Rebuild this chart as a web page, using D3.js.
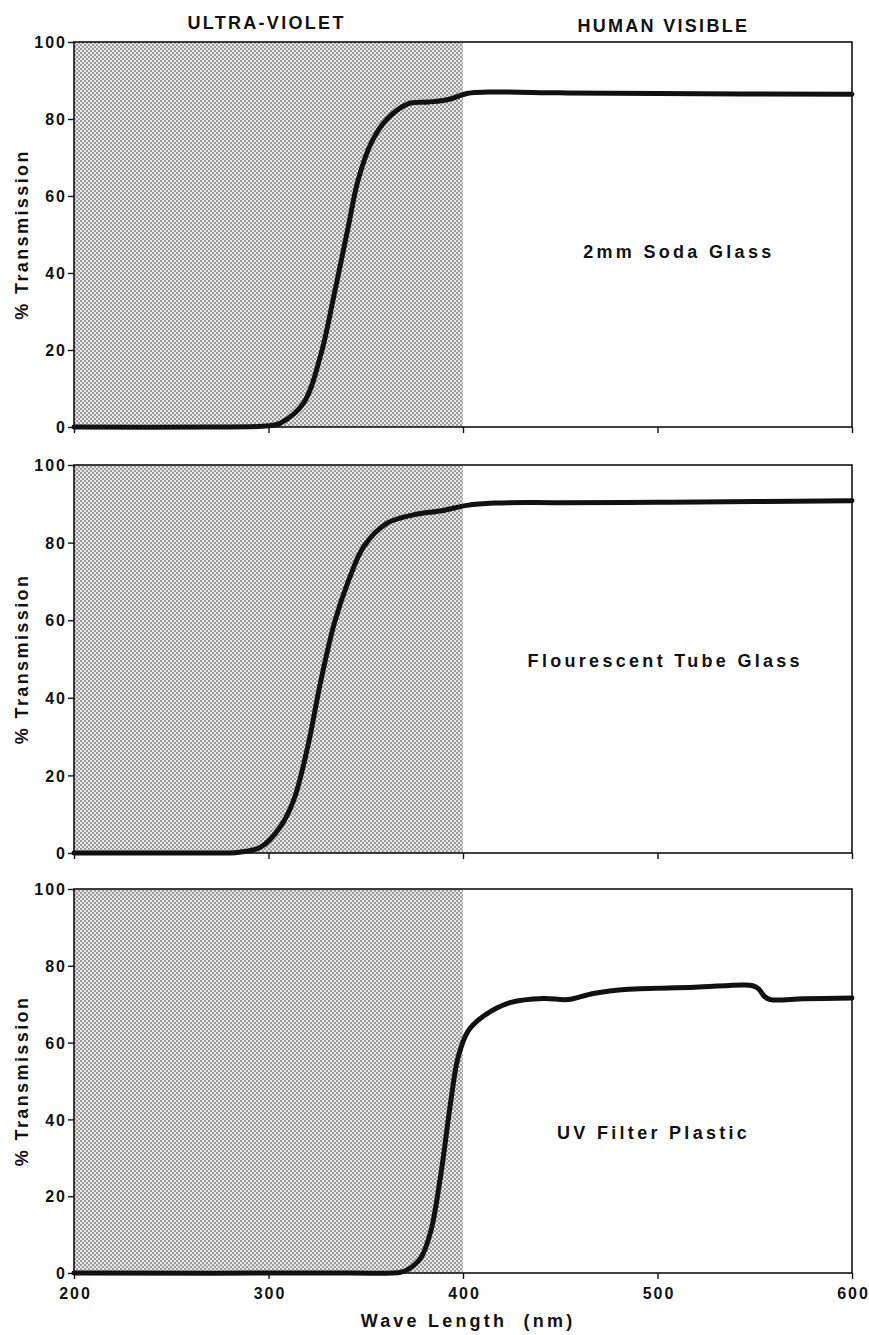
<!DOCTYPE html>
<html>
<head>
<meta charset="utf-8">
<script src="https://cdn.jsdelivr.net/npm/d3@7/dist/d3.min.js"></script>
<style>
  html, body { margin: 0; padding: 0; background: #fff; }
  svg { display: block; }
  text { font-family: "Liberation Sans", Arial, Helvetica, sans-serif; font-weight: bold; fill: #111; white-space: pre; }
</style>
</head>
<body>
<svg id="chart" width="869" height="1335"></svg>
<script>
// Transmission spectra: wavelength (nm) and % transmission for each material
const sodaNm  = [200, 270, 300, 306, 318, 327, 334, 341, 346, 353, 361, 372, 382, 392, 402.6, 413, 450, 500, 600];
const sodaPct = [0,   0,   0.3, 1,   6.2, 19,  35,  52,  64,  74,  80,  84,  84.4,85,  86.7,  87,  86.8,86.6,86.4];

const tubeNm  = [200, 260, 285, 296, 306, 313,  320, 327,  334,  341, 349, 361, 375,  389,  402,  416,  450,  500,  550,  600];
const tubePct = [0,   0,   0.2, 1.5, 6.7, 13.7, 27,  44.6, 59.5, 70,  79,  85,  87.2, 88.2, 89.6, 90.2, 90.3, 90.4, 90.6, 90.8];

const uvNm    = [200, 340, 368, 372, 378.4, 383.5, 388.7, 393.8, 397.4, 402.6, 410.8, 424.7, 441.6, 454,  467,  485,  519,  544, 549,  552, 555, 558,  575,  600];
const uvPct   = [0,   0,   0.2, 1,   4,     11,    26,    45,    56,    63,    67,    70.5,  71.5,  71.2, 72.8, 73.9, 74.4, 75,  74.8, 74,  72,  71.2, 71.4, 71.6];

const panelNames  = ["2mm Soda Glass", "Flourescent Tube Glass", "UV Filter Plastic"];
const nameAtNm    = [511, 504, 498];
const nameAtPct   = [44, 48, 35];

const xTicks      = [200, 300, 400, 500, 600];
const yTicks      = [0, 20, 40, 60, 80, 100];
const uvLimitNm   = 400;
const bandLabels  = ["ULTRA-VIOLET", "HUMAN VISIBLE"];
const bandAtNm    = [299, 503];
const yTitle      = "% Transmission";
const xTitle      = "Wave Length  (nm)";

const series = [
  { nm: sodaNm, pct: sodaPct },
  { nm: tubeNm, pct: tubePct },
  { nm: uvNm,   pct: uvPct }
];

// Layout
const svg = d3.select("#chart");
const left = 74, right = 852;
const panelBox = [[42, 427], [465, 853], [889, 1273]];

const x = d3.scaleLinear().domain([200, 600]).range([left, right]);

// Halftone stipple used for the ultraviolet band
const defs = svg.append("defs");
const pat = defs.append("pattern")
  .attr("id", "stipple").attr("patternUnits", "userSpaceOnUse")
  .attr("width", 4).attr("height", 4);
pat.append("rect").attr("width", 4).attr("height", 4).attr("fill", "#e6e6e6");
pat.append("rect").attr("x", 0).attr("y", 0).attr("width", 2).attr("height", 2).attr("fill", "#9e9e9e");
pat.append("rect").attr("x", 2).attr("y", 2).attr("width", 2).attr("height", 2).attr("fill", "#9e9e9e");

const tickStyle = sel => sel.style("font-size", "16px").style("letter-spacing", "2px");

series.forEach((s, i) => {
  const [top, bottom] = panelBox[i];
  const y = d3.scaleLinear().domain([0, 100]).range([bottom, top]);
  const g = svg.append("g");

  // UV band
  g.append("rect")
    .attr("x", x(200)).attr("y", y(100))
    .attr("width", x(uvLimitNm) - x(200)).attr("height", y(0) - y(100))
    .attr("fill", "url(#stipple)")
    .attr("shape-rendering", "crispEdges");

  // Frame
  g.append("rect")
    .attr("x", x(200)).attr("y", y(100))
    .attr("width", x(600) - x(200)).attr("height", y(0) - y(100))
    .attr("fill", "none").attr("stroke", "#111").attr("stroke-width", 1.6);

  // Y axis
  const ya = g.append("g").attr("transform", `translate(${x(200)},0)`)
    .call(d3.axisLeft(y).tickValues(yTicks).tickSize(6).tickPadding(1).tickSizeOuter(0));
  ya.select(".domain").remove();
  ya.selectAll("line").attr("stroke", "#111").attr("stroke-width", 1.4);
  ya.selectAll("text").call(tickStyle).attr("fill", "#111").attr("dy", "0.36em");

  // X axis
  const xa = g.append("g").attr("transform", `translate(0,${y(0)})`)
    .call(d3.axisBottom(x).tickValues(xTicks).tickSize(6).tickPadding(9).tickSizeOuter(0)
      .tickFormat(i === 2 ? d3.format("d") : () => ""));
  xa.select(".domain").remove();
  xa.selectAll("line").attr("stroke", "#111").attr("stroke-width", 1.4);
  xa.selectAll("text").call(tickStyle).attr("fill", "#111").attr("dx", "1px");

  // Curve
  const pts = s.nm.map((n, k) => [n, s.pct[k]]);
  g.append("path")
    .datum(pts)
    .attr("fill", "none")
    .attr("stroke", "#111")
    .attr("stroke-width", 5)
    .attr("stroke-linejoin", "round")
    .attr("stroke-linecap", "round")
    .attr("d", d3.line().x(d => x(d[0])).y(d => y(d[1])).curve(d3.curveCatmullRom.alpha(0.5)));

  // Material name
  g.append("text")
    .attr("x", x(nameAtNm[i])).attr("y", y(nameAtPct[i]))
    .attr("text-anchor", "middle")
    .style("font-size", "18px").style("letter-spacing", "3.3px")
    .text(panelNames[i]);

  // Y title
  g.append("text")
    .attr("transform", `translate(28,${(top + bottom) / 2}) rotate(-90)`)
    .attr("text-anchor", "middle")
    .style("font-size", "18px").style("letter-spacing", "2.4px")
    .text(yTitle);
});

// Band labels above the top panel
svg.selectAll(".band").data(bandLabels).join("text")
  .attr("class", "band")
  .attr("x", (d, k) => x(bandAtNm[k]))
  .attr("y", (d, k) => k === 0 ? 29 : 32)
  .attr("text-anchor", "middle")
  .style("font-size", "18px").style("letter-spacing", "2.3px")
  .text(d => d);

// X title
svg.append("text")
  .attr("x", 468).attr("y", 1327)
  .attr("text-anchor", "middle")
  .style("font-size", "18px").style("letter-spacing", "3.2px")
  .text(xTitle);
</script>
</body>
</html>
